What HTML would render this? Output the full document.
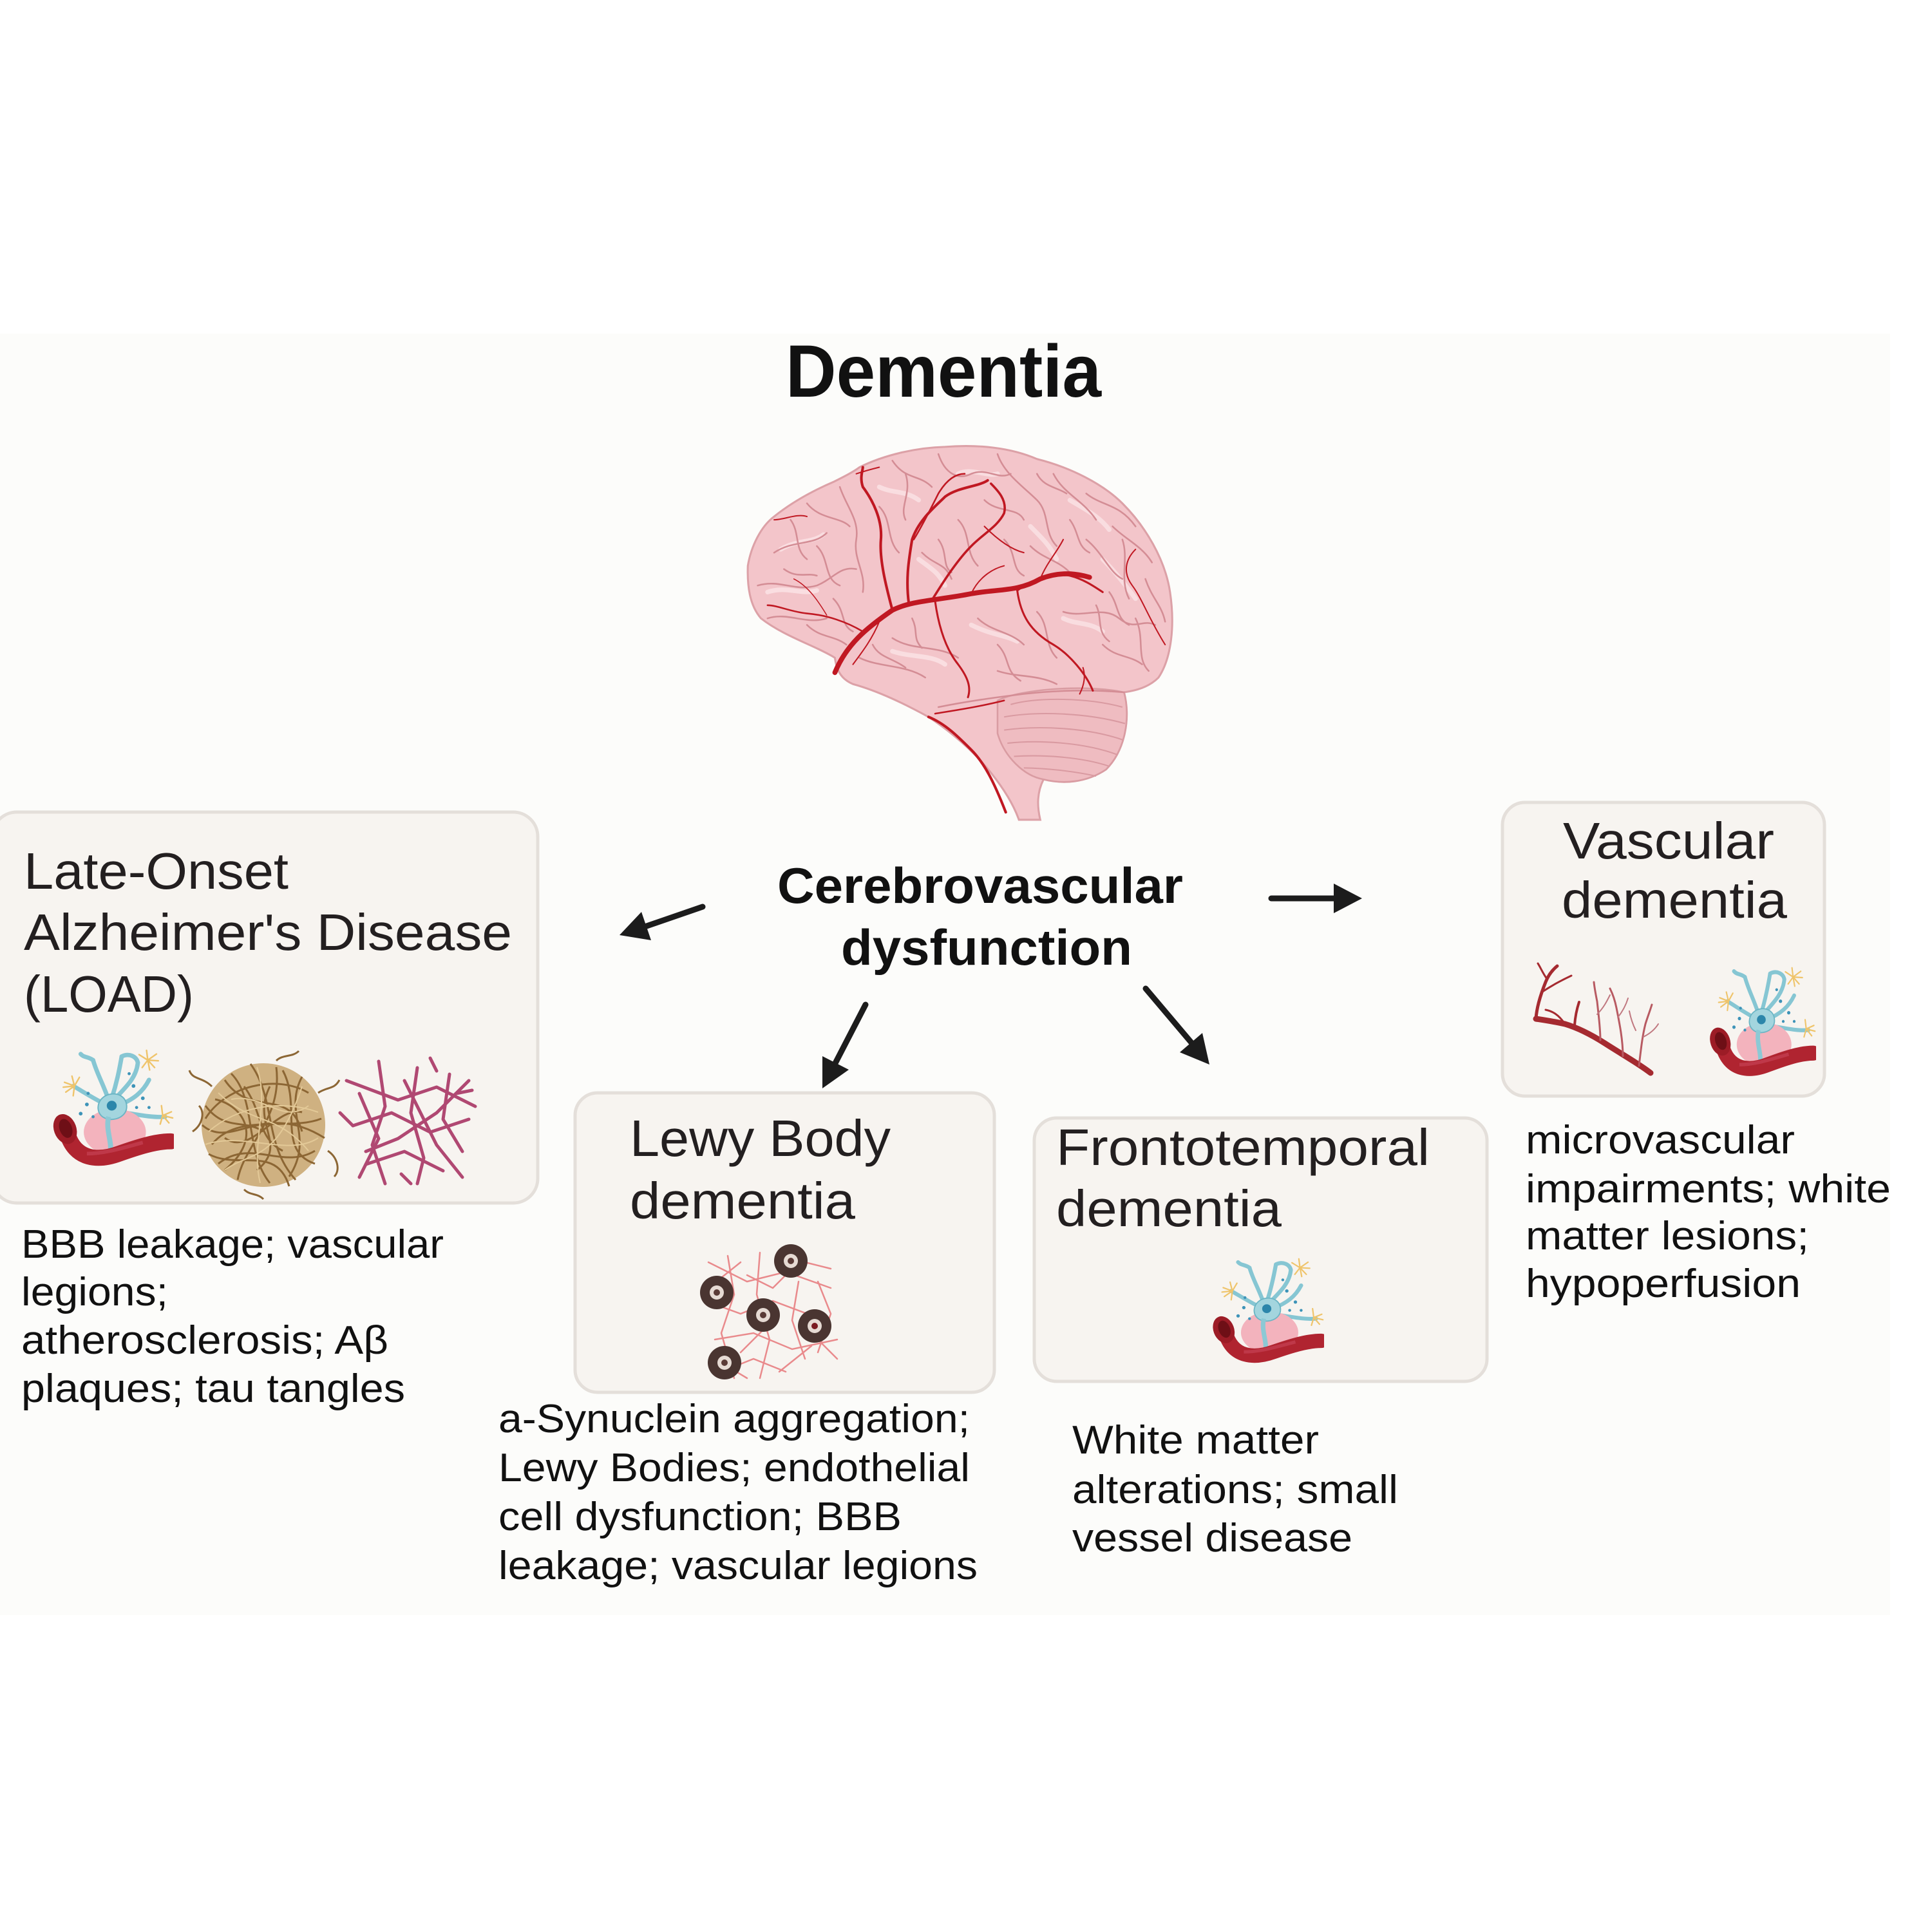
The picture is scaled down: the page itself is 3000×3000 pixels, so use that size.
<!DOCTYPE html>
<html><head><meta charset="utf-8"><style>
html,body{margin:0;padding:0;background:#fff;}
svg{display:block;}
text{font-family:"Liberation Sans",Arial,sans-serif;}
</style></head><body>
<svg width="3000" height="3000" viewBox="0 0 3000 3000" xmlns="http://www.w3.org/2000/svg">
<defs>
<symbol id="nv" viewBox="0 0 200 200" preserveAspectRatio="none">
  <g stroke="#86c6d3" stroke-width="7" fill="none" stroke-linecap="round">
    <path d="M96,86 C88,60 76,40 70,18"/>
    <path d="M100,80 C108,55 112,35 116,12"/>
    <path d="M104,82 C125,60 140,45 142,22"/>
    <path d="M116,12 C128,6 140,12 142,22"/>
    <path d="M110,92 C135,82 150,70 160,50"/>
    <path d="M90,90 C70,80 55,70 38,60"/>
    <path d="M112,102 C140,106 165,112 186,110"/>
    <path d="M70,18 C62,12 55,14 50,8"/>
  </g>
  <g stroke="#efc46b" stroke-width="2.5" fill="none" stroke-linecap="round">
    <path d="M158,18 l14,-10 M158,18 l17,1 M158,18 l11,12 M158,18 l-2,-16 M158,18 l-14,-9 M158,18 l-9,12 M158,18 l3,16"/>
    <path d="M40,60 l-16,-6 M40,60 l-14,10 M40,60 l-4,-16 M40,60 l8,-14 M40,60 l-2,16 M40,60 l-18,2"/>
    <path d="M182,108 l14,-6 M182,108 l10,12 M182,108 l-2,-16 M182,108 l16,4 M182,108 l-4,14"/>
  </g>
  <ellipse cx="105" cy="135" rx="50" ry="38" fill="#f3b3bd"/>
  <path d="M78,96 C78,68 122,64 124,92 C126,118 80,124 78,96Z" fill="#a3d5de" stroke="#6bb5c4" stroke-width="2"/>
  <path d="M95,110 C90,130 100,150 98,165" stroke="#8cc9d5" stroke-width="8" fill="none"/>
  <circle cx="100" cy="92" r="8" fill="#2c86aa"/>
  <g fill="#3d93b8">
    <circle cx="60" cy="90" r="3"/><circle cx="50" cy="105" r="3"/><circle cx="70" cy="110" r="2.5"/>
    <circle cx="135" cy="60" r="3"/><circle cx="150" cy="80" r="3"/><circle cx="140" cy="95" r="2.5"/>
    <circle cx="128" cy="40" r="2.5"/><circle cx="62" cy="72" r="2.5"/><circle cx="160" cy="95" r="2.5"/>
  </g>
  <path d="M28,135 C40,182 80,182 112,170 C140,160 170,150 195,150" stroke="#b02430" stroke-width="26" fill="none" stroke-linecap="round"/>
  <path d="M60,170 C90,170 120,160 150,152" stroke="#c9465a" stroke-width="6" fill="none" opacity="0.6"/>
  <ellipse cx="25" cy="130" rx="18" ry="25" fill="#9c1c26" transform="rotate(-20 25 130)"/>
  <ellipse cx="26" cy="129" rx="10" ry="16" fill="#6e0f16" transform="rotate(-20 26 129)"/>
</symbol>
</defs>

<!-- panel background -->
<rect x="0" y="518" width="2935" height="1990" fill="#fcfcfa"/>

<!-- Title -->
<text x="1220" y="616" font-size="115" font-weight="bold" fill="#111" textLength="490" lengthAdjust="spacingAndGlyphs">Dementia</text>

<!-- Brain -->
<g transform="translate(1100,450) scale(0.5102)">
  <path d="M460,540 C540,500 640,480 720,478 C820,470 920,480 1000,515 C1100,540 1200,590 1260,650 C1330,720 1390,820 1405,920 C1420,1020 1410,1120 1370,1180 C1340,1210 1300,1220 1265,1225 C1285,1300 1270,1400 1210,1460 C1150,1500 1080,1505 1020,1490 C1000,1530 1000,1570 1010,1613 L945,1613 C930,1570 900,1520 860,1470 C820,1420 760,1360 670,1300 C600,1262 520,1222 440,1200 C405,1185 390,1160 385,1120 C330,1085 230,1055 160,1000 C125,960 118,900 120,840 C130,780 160,720 200,690 C250,650 310,615 380,585 C410,570 440,555 460,540Z" fill="#f3c5ca" stroke="#dca1a7" stroke-width="6"/>
  <path d="M880,1250 C950,1215 1150,1200 1265,1225 C1285,1300 1270,1400 1210,1460 C1150,1500 1080,1505 1020,1490 C960,1480 900,1420 880,1350Z" fill="#efbcc1" stroke="#d99ca2" stroke-width="5"/>
  <g stroke="#d99aa1" stroke-width="4" fill="none">
    <path d="M920,1262 C1000,1240 1150,1240 1260,1270"/>
    <path d="M900,1300 C1000,1282 1150,1287 1268,1320"/>
    <path d="M900,1340 C1000,1326 1150,1331 1262,1370"/>
    <path d="M910,1380 C1000,1370 1140,1376 1245,1415"/>
    <path d="M930,1420 C1010,1415 1130,1420 1220,1450"/>
    <path d="M960,1455 C1030,1456 1110,1465 1180,1480"/>
  </g>
  <g stroke="#fbe4e6" stroke-width="14" fill="none" stroke-linecap="round" opacity="0.8">
    <path d="M220,790 C270,760 320,770 350,745"/>
    <path d="M180,920 C240,900 280,930 330,915"/>
    <path d="M520,600 C560,620 600,610 640,640"/>
    <path d="M760,560 C800,540 850,570 880,560"/>
    <path d="M1100,640 C1150,670 1190,690 1220,730"/>
    <path d="M1200,820 C1240,860 1270,900 1300,940"/>
    <path d="M800,1020 C860,1050 900,1050 940,1070"/>
    <path d="M560,1100 C620,1120 680,1110 720,1140"/>
    <path d="M1080,1000 C1120,1020 1160,1010 1200,1040"/>
    <path d="M640,820 C680,850 700,860 720,900"/>
    <path d="M980,720 C1020,760 1040,780 1060,820"/>
  </g>
  <g stroke="#d48d95" stroke-width="5" fill="none" stroke-linecap="round">
    <path d="M200,800 C260,760 320,780 360,740"/>
    <path d="M150,900 C220,880 260,920 330,900 C380,880 400,840 450,850"/>
    <path d="M180,1000 C240,980 300,1020 360,1000"/>
    <path d="M300,650 C340,700 400,690 430,720"/>
    <path d="M400,600 C420,660 460,700 450,760 C440,820 480,860 470,920"/>
    <path d="M560,520 C600,580 640,560 680,600"/>
    <path d="M700,500 C720,560 760,580 800,560 C850,540 880,580 920,560"/>
    <path d="M880,500 C900,560 960,600 1000,640 C1040,680 1020,740 1060,780"/>
    <path d="M1050,560 C1080,620 1140,640 1180,700"/>
    <path d="M1150,760 C1200,800 1220,860 1260,880"/>
    <path d="M1080,980 C1140,1000 1200,960 1250,1000 C1300,1040 1320,1000 1360,1020"/>
    <path d="M980,780 C1020,820 1060,820 1100,860"/>
    <path d="M760,700 C800,740 780,800 820,840"/>
    <path d="M820,1000 C860,1040 920,1040 960,1080"/>
    <path d="M560,1060 C620,1100 700,1080 760,1120"/>
    <path d="M460,1120 C520,1150 600,1140 660,1180"/>
    <path d="M1200,1080 C1240,1120 1280,1110 1320,1140"/>
    <path d="M1150,620 C1200,660 1250,650 1300,720"/>
    <path d="M650,800 C690,840 720,830 740,880"/>
    <path d="M300,1020 C340,1060 380,1050 420,1080"/>
    <path d="M1230,720 C1270,760 1320,780 1350,830"/>
    <path d="M1330,880 C1350,940 1380,960 1390,1010"/>
    <path d="M700,1270 C800,1250 880,1240 960,1230 C1050,1220 1150,1215 1265,1225"/>
    <path d="M880,1160 C940,1180 1000,1170 1060,1200"/>
    <path d="M250,700 C280,740 260,790 300,820"/>
    <path d="M330,780 C370,820 350,880 400,900"/>
    <path d="M520,660 C560,700 540,760 580,800"/>
    <path d="M600,560 C620,620 580,660 600,700"/>
    <path d="M840,640 C880,680 940,660 960,700"/>
    <path d="M1000,560 C1020,600 1060,600 1090,620"/>
    <path d="M1260,760 C1280,820 1250,880 1280,940"/>
    <path d="M1300,1000 C1330,1060 1300,1120 1340,1160"/>
    <path d="M1180,960 C1200,1000 1180,1040 1220,1070"/>
    <path d="M1000,980 C1040,1020 1020,1080 1060,1120"/>
    <path d="M880,1080 C920,1120 900,1160 950,1190"/>
    <path d="M620,1000 C640,1040 620,1060 650,1090"/>
    <path d="M500,1080 C520,1120 560,1120 600,1150"/>
    <path d="M380,940 C420,980 400,1020 440,1040"/>
    <path d="M230,850 C270,880 300,860 330,870"/>
    <path d="M700,760 C730,800 710,840 740,860"/>
    <path d="M900,760 C940,800 920,850 960,870"/>
    <path d="M1100,700 C1130,740 1120,780 1160,800"/>
    <path d="M1220,920 C1250,960 1240,1000 1280,1020"/>
  </g>
  <g stroke="#c01822" fill="none" stroke-linecap="round">
    <path d="M385,1165 C420,1080 480,1030 560,975 C620,945 700,945 800,925 C880,910 940,920 1010,880 C1060,860 1110,860 1160,875" stroke-width="15"/>
    <path d="M560,975 C540,900 520,820 525,760 C530,700 500,640 470,600 C460,570 470,550 470,540" stroke-width="8"/>
    <path d="M610,955 C600,880 610,820 620,760 C640,700 690,660 720,630 C760,600 820,600 850,580" stroke-width="8"/>
    <path d="M680,945 C720,880 760,820 800,780 C840,740 880,720 900,680 C910,640 880,610 860,590" stroke-width="7"/>
    <path d="M625,760 C650,720 680,660 700,620 C730,570 760,560 780,560" stroke-width="5"/>
    <path d="M940,915 C990,880 1050,860 1100,870 C1140,880 1170,900 1200,920" stroke-width="6"/>
    <path d="M940,915 C950,990 980,1040 1050,1080 C1100,1110 1150,1170 1170,1220" stroke-width="6"/>
    <path d="M690,948 C700,1020 720,1090 760,1140 C790,1180 800,1210 790,1240" stroke-width="6"/>
    <path d="M470,1040 C420,1010 360,990 300,985 C250,980 210,960 180,960" stroke-width="5"/>
    <path d="M200,700 C230,700 270,680 300,690" stroke-width="4"/>
    <path d="M1300,790 C1270,820 1260,860 1290,900 C1320,940 1340,1000 1390,1080" stroke-width="4"/>
    <path d="M670,1300 C720,1320 760,1360 800,1400 C840,1440 870,1500 905,1590" stroke-width="8"/>
    <path d="M690,1290 C750,1280 820,1270 900,1250" stroke-width="5"/>
    <path d="M1140,1150 C1150,1180 1140,1210 1130,1230" stroke-width="4"/>
    <path d="M450,560 C480,550 500,545 520,540" stroke-width="4"/>
    <path d="M840,720 C880,760 920,790 960,800" stroke-width="4"/>
    <path d="M800,925 C820,880 860,850 900,840" stroke-width="4"/>
    <path d="M520,1010 C500,1060 470,1100 440,1140" stroke-width="4"/>
    <path d="M1010,880 C1030,830 1060,800 1080,760" stroke-width="4"/>
    <path d="M360,990 C330,940 300,900 260,880" stroke-width="3"/>
  </g>
</g>

<!-- Cerebrovascular dysfunction -->
<text x="1207" y="1402" font-size="78" font-weight="bold" fill="#111" textLength="630" lengthAdjust="spacingAndGlyphs">Cerebrovascular</text>
<text x="1306" y="1498" font-size="78" font-weight="bold" fill="#111" textLength="452" lengthAdjust="spacingAndGlyphs">dysfunction</text>

<!-- Arrows -->
<g stroke="#1c1c1c" stroke-width="9" stroke-linecap="round">
  <line x1="1091" y1="1408" x2="1004" y2="1438"/>
  <line x1="1974" y1="1395" x2="2073" y2="1395"/>
  <line x1="1344" y1="1560" x2="1297" y2="1651"/>
  <line x1="1779" y1="1535" x2="1850" y2="1619"/>
</g>
<g fill="#1c1c1c">
  <polygon points="962,1452 1011,1460 996,1416"/>
  <polygon points="2115,1395 2071,1372 2071,1418"/>
  <polygon points="1277,1690 1318,1661 1277,1640"/>
  <polygon points="1878,1653 1867,1604 1832,1634"/>
</g>

<!-- Boxes -->
<g fill="#f7f4f0" stroke="#e4dfda" stroke-width="5">
  <rect x="-12" y="1261" width="847" height="607" rx="38"/>
  <rect x="893" y="1697" width="651" height="465" rx="35"/>
  <rect x="1606" y="1736" width="703" height="409" rx="35"/>
  <rect x="2333" y="1246" width="500" height="456" rx="35"/>
</g>

<!-- LOAD -->
<g font-size="80" fill="#231f20">
  <text x="37" y="1380" textLength="411" lengthAdjust="spacingAndGlyphs">Late-Onset</text>
  <text x="37" y="1475" textLength="758" lengthAdjust="spacingAndGlyphs">Alzheimer's Disease</text>
  <text x="37" y="1571" textLength="264" lengthAdjust="spacingAndGlyphs">(LOAD)</text>
</g>
<use href="#nv" x="77" y="1629" width="193" height="191"/>
<!-- tangle ball -->
<g transform="translate(409,1747)">
  <circle r="96" fill="#c8a56d" opacity="0.85"/>
  <g fill="none" stroke="#8c6634" stroke-width="3">
    <path d="M-90,-10 C-60,-60 20,-80 70,-50"/>
    <path d="M-80,30 C-40,-20 40,10 90,-10"/>
    <path d="M-70,60 C-20,20 30,70 80,40"/>
    <path d="M-50,-80 C-10,-40 -30,40 10,90"/>
    <path d="M-20,-95 C20,-40 0,30 50,85"/>
    <path d="M30,-85 C60,-30 20,40 80,60"/>
    <path d="M-95,0 C-50,40 0,-40 95,20"/>
    <path d="M-60,-70 C-20,-10 40,-60 60,10"/>
    <path d="M-85,45 C-40,70 20,30 40,95"/>
    <path d="M-40,85 C-30,30 30,-10 20,-90"/>
    <path d="M60,-75 C30,-20 80,20 40,80"/>
    <path d="M-75,-40 C-30,-30 0,20 -60,70"/>
    <path d="M-110,10 C-95,0 -90,-20 -100,-30"/>
    <path d="M100,40 C115,50 120,70 110,80"/>
    <path d="M-30,100 C-20,110 -10,105 0,115"/>
    <path d="M20,-100 C30,-110 45,-105 55,-115"/>
    <path d="M-80,-60 C-95,-75 -110,-70 -115,-85"/>
    <path d="M85,-50 C100,-60 110,-55 118,-70"/>
    <path d="M-60,20 C-20,50 20,-30 60,-20"/>
    <path d="M-30,-60 C0,-20 -10,20 30,40"/>
    <path d="M10,-60 C-20,0 40,30 -10,70"/>
    <path d="M-90,-30 C-60,10 -30,-10 0,10"/>
  </g>
  <g fill="none" stroke="#e3c997" stroke-width="2">
    <path d="M-85,10 C-40,-30 30,-40 85,-20"/>
    <path d="M-70,-50 C-20,0 20,-20 70,40"/>
    <path d="M-60,70 C-20,40 20,60 60,-60"/>
    <path d="M-10,-90 C10,-30 -20,30 -5,90"/>
    <path d="M-90,30 C-30,10 40,50 85,20"/>
    <path d="M-50,-40 C0,-50 30,0 70,-30"/>
  </g>
</g>
<!-- pink network -->
<g transform="translate(528,1638)" fill="none" stroke="#b04872" stroke-width="5" stroke-linecap="round" stroke-linejoin="round">
  <path d="M10,40 L90,70 L150,50 L210,80"/>
  <path d="M20,110 L80,90 L140,120 L200,100"/>
  <path d="M40,170 L100,150 L160,180"/>
  <path d="M60,10 L70,80 L50,140 L70,200"/>
  <path d="M120,20 L110,90 L130,160 L120,200"/>
  <path d="M170,30 L160,100 L190,150"/>
  <path d="M30,60 L60,130 L30,190"/>
  <path d="M100,40 L150,140 L190,190"/>
  <path d="M200,40 L150,90 L90,130 L40,150"/>
  <path d="M0,90 L20,110 M180,60 L205,55 M95,185 L110,200 M140,5 L150,25"/>
</g>

<g font-size="62" fill="#111">
  <text x="33" y="1953" textLength="656" lengthAdjust="spacingAndGlyphs">BBB leakage; vascular</text>
  <text x="33" y="2027" textLength="228" lengthAdjust="spacingAndGlyphs">legions;</text>
  <text x="33" y="2102" textLength="570" lengthAdjust="spacingAndGlyphs">atherosclerosis; Aβ</text>
  <text x="33" y="2177" textLength="596" lengthAdjust="spacingAndGlyphs">plaques; tau tangles</text>
</g>

<!-- Lewy -->
<g font-size="80" fill="#231f20">
  <text x="978" y="1795" textLength="405" lengthAdjust="spacingAndGlyphs">Lewy Body</text>
  <text x="978" y="1892" textLength="350" lengthAdjust="spacingAndGlyphs">dementia</text>
</g>
<g fill="none" stroke="#e98a8c" stroke-width="2.5" stroke-linecap="round">
  <path d="M1100,1960 L1160,1990 L1220,1975 L1290,2000"/>
  <path d="M1095,2020 L1150,2040 L1200,2020 L1280,2050"/>
  <path d="M1110,2080 L1170,2070 L1230,2095 L1300,2080"/>
  <path d="M1120,2130 L1170,2110 L1220,2130"/>
  <path d="M1130,1950 L1140,2010 L1120,2070 L1140,2140"/>
  <path d="M1180,1945 L1175,2010 L1195,2080 L1180,2140"/>
  <path d="M1240,1990 L1230,2050 L1250,2110"/>
  <path d="M1270,1990 L1290,2040 L1270,2100"/>
  <path d="M1100,2000 L1150,1960 M1150,2100 L1200,2050 M1210,2130 L1260,2090 M1250,1960 L1290,1970"/>
  <path d="M1160,1980 L1200,2000 L1240,1960 M1110,2110 L1160,2140 M1260,2070 L1300,2110"/>
</g>
<g>
  <circle cx="1113" cy="2007" r="26" fill="#4a3531"/><circle cx="1113" cy="2007" r="11" fill="#e6dad3"/><circle cx="1113" cy="2007" r="5" fill="#5a3a36"/>
  <circle cx="1228" cy="1958" r="26" fill="#4a3531"/><circle cx="1228" cy="1958" r="11" fill="#e6dad3"/><circle cx="1228" cy="1958" r="5" fill="#5a3a36"/>
  <circle cx="1185" cy="2042" r="26" fill="#4a3531"/><circle cx="1185" cy="2042" r="11" fill="#e6dad3"/><circle cx="1185" cy="2042" r="5" fill="#5a3a36"/>
  <circle cx="1265" cy="2059" r="26" fill="#4a3531"/><circle cx="1265" cy="2059" r="11" fill="#e6dad3"/><circle cx="1265" cy="2059" r="5" fill="#7a1a20"/>
  <circle cx="1125" cy="2116" r="26" fill="#4a3531"/><circle cx="1125" cy="2116" r="11" fill="#e6dad3"/><circle cx="1125" cy="2116" r="5" fill="#5a3a36"/>
</g>
<g font-size="62" fill="#111">
  <text x="774" y="2224" textLength="732" lengthAdjust="spacingAndGlyphs">a-Synuclein aggregation;</text>
  <text x="774" y="2300" textLength="732" lengthAdjust="spacingAndGlyphs">Lewy Bodies; endothelial</text>
  <text x="774" y="2376" textLength="626" lengthAdjust="spacingAndGlyphs">cell dysfunction; BBB</text>
  <text x="774" y="2452" textLength="744" lengthAdjust="spacingAndGlyphs">leakage; vascular legions</text>
</g>

<!-- FTD -->
<g font-size="80" fill="#231f20">
  <text x="1640" y="1809" textLength="580" lengthAdjust="spacingAndGlyphs">Frontotemporal</text>
  <text x="1640" y="1904" textLength="350" lengthAdjust="spacingAndGlyphs">dementia</text>
</g>
<use href="#nv" x="1878" y="1953" width="178" height="172"/>
<g font-size="62" fill="#111">
  <text x="1665" y="2257" textLength="383" lengthAdjust="spacingAndGlyphs">White matter</text>
  <text x="1665" y="2334" textLength="506" lengthAdjust="spacingAndGlyphs">alterations; small</text>
  <text x="1665" y="2409" textLength="435" lengthAdjust="spacingAndGlyphs">vessel disease</text>
</g>

<!-- Vascular -->
<g font-size="80" fill="#231f20">
  <text x="2427" y="1333" textLength="328" lengthAdjust="spacingAndGlyphs">Vascular</text>
  <text x="2425" y="1425" textLength="350" lengthAdjust="spacingAndGlyphs">dementia</text>
</g>
<g fill="none" stroke-linecap="round" stroke-linejoin="round">
  <path d="M2563,1666 C2545,1652 2520,1638 2492,1620 C2470,1606 2450,1596 2430,1590 C2412,1586 2398,1584 2385,1582" stroke="#a52a30" stroke-width="9"/>
  <path d="M2385,1582 C2386,1565 2392,1545 2400,1525 C2405,1512 2412,1505 2418,1500" stroke="#a52a30" stroke-width="5"/>
  <path d="M2395,1540 C2410,1530 2425,1522 2440,1515" stroke="#a52a30" stroke-width="3"/>
  <path d="M2402,1520 C2395,1510 2392,1502 2388,1496" stroke="#a52a30" stroke-width="3"/>
  <path d="M2445,1592 C2446,1578 2448,1568 2452,1556" stroke="#a52a30" stroke-width="4"/>
  <path d="M2430,1590 C2420,1575 2410,1570 2400,1568" stroke="#a52a30" stroke-width="3"/>
  <path d="M2485,1615 C2485,1595 2482,1575 2480,1555 C2478,1545 2476,1535 2475,1525" stroke="#b85a62" stroke-width="3"/>
  <path d="M2480,1575 C2490,1565 2495,1555 2500,1545" stroke="#c07880" stroke-width="2"/>
  <path d="M2520,1640 C2520,1615 2515,1590 2510,1565 C2508,1555 2505,1545 2500,1535" stroke="#b85a62" stroke-width="3"/>
  <path d="M2512,1580 C2520,1570 2525,1560 2528,1550" stroke="#c07880" stroke-width="2"/>
  <path d="M2545,1655 C2548,1630 2550,1610 2555,1590 C2558,1580 2562,1570 2565,1560" stroke="#b85a62" stroke-width="3"/>
  <path d="M2552,1610 C2562,1605 2570,1598 2575,1590" stroke="#c07880" stroke-width="2"/>
  <path d="M2540,1600 C2535,1590 2532,1580 2530,1570" stroke="#c07880" stroke-width="2"/>
</g>
<use href="#nv" x="2650" y="1501" width="170" height="179"/>
<g font-size="62" fill="#111">
  <text x="2369" y="1791" textLength="418" lengthAdjust="spacingAndGlyphs">microvascular</text>
  <text x="2369" y="1867" textLength="567" lengthAdjust="spacingAndGlyphs">impairments; white</text>
  <text x="2369" y="1940" textLength="440" lengthAdjust="spacingAndGlyphs">matter lesions;</text>
  <text x="2369" y="2014" textLength="427" lengthAdjust="spacingAndGlyphs">hypoperfusion</text>
</g>
</svg>
</body></html>
